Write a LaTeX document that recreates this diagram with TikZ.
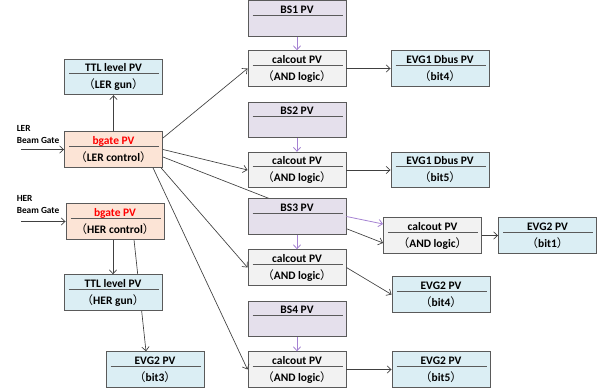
\documentclass[tikz,border=0pt]{standalone}
\usepackage{fontspec}
\setmainfont{Carlito}
\newfontfamily\cjk{Noto Sans CJK SC}
\usepackage{tikz}
\usetikzlibrary{arrows,arrows.meta}
\usetikzlibrary{positioning,calc,backgrounds}

\definecolor{pvline}{RGB}{90,90,90}
\definecolor{pvblue}{RGB}{219,238,244}
\definecolor{pvorange}{RGB}{252,228,214}
\definecolor{pvpurple}{RGB}{229,224,236}
\definecolor{pvgray}{RGB}{242,242,242}
\definecolor{bsarrow}{RGB}{165,130,210}
\definecolor{wire}{RGB}{64,64,64}
\definecolor{pvred}{RGB}{255,0,0}

\newcommand{\pvnote}[1]{{\cjk\mdseries （}#1{\cjk\mdseries ）}}
\newcommand{\bsgap}{\phantom{\pvnote{x}}}

\tikzset{
	pvbox/.style={draw=pvline, line width=0.7pt, minimum width=73.5pt, minimum height=26.6pt,
		inner sep=0pt, align=center, font=\fontsize{8.6}{12.75}\selectfont\bfseries,
		path picture={\draw[pvline, line width=0.5pt]
			([xshift=3.5pt,yshift=2.4pt]path picture bounding box.west) --
			([xshift=-2.5pt,yshift=2.4pt]path picture bounding box.east);}},
	gatelabel/.style={inner sep=0pt, align=left, font=\fontsize{7}{8.6}\selectfont\bfseries},
	wire/.style={draw=wire, line width=0.5pt, -{Straight Barb[length=3pt,width=5.5pt]}},
	bswire/.style={draw=bsarrow, line width=0.6pt, -{Straight Barb[length=3pt,width=5.5pt]}}
}

\begin{document}
\begin{tikzpicture}[x=0.75pt,y=-0.75pt]
				\useasboundingbox (0,0) rectangle (600,392);
				% LER / HER side
				\node[pvbox, fill=pvblue] (ttlL) at (113.5,77) {TTL level PV\\\pvnote{LER gun}};
				\node[pvbox, fill=pvorange] (bgL) at (113.5,149.5) {\textcolor{pvred}{bgate PV}\\\pvnote{LER control}};
				\node[pvbox, fill=pvorange] (bgH) at (115,221.5) {\textcolor{pvred}{bgate PV}\\\pvnote{HER control}};
				\node[pvbox, fill=pvblue] (ttlH) at (113,292.5) {TTL level PV\\\pvnote{HER gun}};
				\node[pvbox, fill=pvblue] (evg2c) at (155,369.5) {EVG2 PV\\\pvnote{bit3}};
				\node[gatelabel, anchor=north west] (lerlbl) at (16.5,125.5) {LER\\Beam Gate};
				\node[gatelabel, anchor=north west] (herlbl) at (16.5,195.5) {HER\\Beam Gate};
				\coordinate (lerin) at (21,149.5);
				\coordinate (herin) at (21,221.5);
				% BS column
				\node[pvbox, fill=pvpurple] (bs1) at (297,18.5) {BS1 PV\\\bsgap};
				\node[pvbox, fill=pvpurple] (bs2) at (297,120) {BS2 PV\\\bsgap};
				\node[pvbox, fill=pvpurple] (bs3) at (297,216.5) {BS3 PV\\\bsgap};
				\node[pvbox, fill=pvpurple] (bs4) at (297,319) {BS4 PV\\\bsgap};
				\node[pvbox, fill=pvgray] (cal1) at (297,68.5) {calcout PV\\\pvnote{AND logic}};
				\node[pvbox, fill=pvgray] (cal2) at (297,170) {calcout PV\\\pvnote{AND logic}};
				\node[pvbox, fill=pvgray] (cal3) at (432.5,235.5) {calcout PV\\\pvnote{AND logic}};
				\node[pvbox, fill=pvgray] (cal4) at (297,267.5) {calcout PV\\\pvnote{AND logic}};
				\node[pvbox, fill=pvgray] (cal5) at (297,369.5) {calcout PV\\\pvnote{AND logic}};
				% EVG outputs
				\node[pvbox, fill=pvblue] (evg1a) at (440,68.5) {EVG1 Dbus PV\\\pvnote{bit4}};
				\node[pvbox, fill=pvblue] (evg1b) at (440,170) {EVG1 Dbus PV\\\pvnote{bit5}};
				\node[pvbox, fill=pvblue] (evg2a) at (547.5,235.5) {EVG2 PV\\\pvnote{bit1}};
				\node[pvbox, fill=pvblue] (evg2d) at (441,294.5) {EVG2 PV\\\pvnote{bit4}};
				\node[pvbox, fill=pvblue] (evg2e) at (441,369.5) {EVG2 PV\\\pvnote{bit5}};
				% connectors
				\draw[wire] (lerin) -- (bgL.west);
				\draw[wire] (herin) -- (bgH.west);
				\draw[wire] (bgL.north) -- (ttlL.south);
				\draw[wire] ($(bgH.south)+(-2,0)$) -- (ttlH.north);
				\draw[wire] ($(bgL.east)+(0,-11.5)$) -- (cal1.west);
				\draw[wire] (bgL.east) -- (cal2.west);
				\draw[wire] ($(bgL.south east)+(-2,0)$) -- (cal4.west);
				\draw[wire] ($(bgL.south east)+(-10,0)$) -- (cal5.west);
				\begin{scope}[on background layer]
					\draw[wire] ($(bgL.east)+(0,7.5)$) -- ($(cal3.west)+(0,7.5)$);
					\draw[wire] ($(bgH.south)+(19,0)$) -- ($(evg2c.north)+(-9,0)$);
				\end{scope}
				\draw[bswire] (bs1) -- (cal1);
				\draw[bswire] (bs2) -- (cal2);
				\draw[bswire] (bs3) -- (cal4);
				\draw[bswire] (bs4) -- (cal5);
				\draw[bswire] (bs3.east) -- ($(cal3.west)+(0,-11.5)$);
				\draw[wire] (cal1) -- (evg1a);
				\draw[wire] (cal2) -- (evg1b);
				\draw[wire] (cal3) -- (evg2a);
				\draw[wire] (cal4.east) -- (evg2d.west);
				\draw[wire] (cal5) -- (evg2e);
\end{tikzpicture}
\end{document}
